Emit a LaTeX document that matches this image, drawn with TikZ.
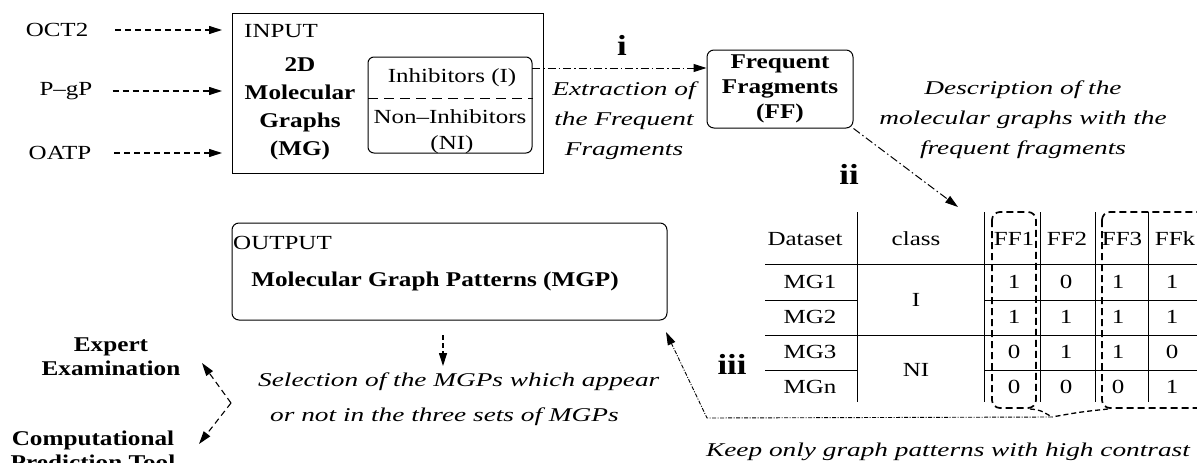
\documentclass[tikz,border=0pt]{standalone}
\usepackage{fontspec}
\setmainfont[FakeStretch=1.25]{Liberation Serif}
\newfontfamily\bff[FakeStretch=1.2]{Liberation Serif}
\newfontfamily\itf[FakeStretch=1.4]{Liberation Serif}
\usetikzlibrary{arrows.meta}
\begin{document}
\begin{tikzpicture}[x=1pt,y=-1pt,
 txt/.style={inner sep=0pt, font=\fontsize{20}{24}\selectfont},
 btxt/.style={inner sep=0pt, align=center, font=\bff\bfseries\fontsize{21}{28}\selectfont},
 roman/.style={inner sep=0pt, font=\bff\bfseries\fontsize{29}{30}\selectfont},
 itxt/.style={inner sep=0pt, align=center, font=\itf\itshape\fontsize{19.5}{30}\selectfont},
 box/.style={draw, line width=1pt, inner sep=0pt},
 rbox/.style={box, rounded corners=7pt},
 tip/.style={-{Triangle[length=13pt,width=8pt]}},
 dasharrow/.style={tip, line width=1.1pt, dash pattern=on 6pt off 4pt},
 dotarrow/.style={tip, line width=1pt, dash pattern=on 8pt off 3pt on 1.5pt off 3pt},
 grid/.style={line width=1pt},
 fbox/.style={line width=1.7pt, dash pattern=on 7pt off 4pt, rounded corners=8pt},
]
\clip (0,0) rectangle (1197,463);
\fill[white] (0,0) rectangle (1197,463);

% left labels
\node[txt] (oct) at (57,30) {OCT2};
\node[txt] (pgp) at (66,91) {P–gP};
\node[txt] (oatp) at (60,153) {OATP};

% input box
\node[box, anchor=north west, minimum width=311, minimum height=160] (input) at (232,13) {};
\node[txt, anchor=west] (inlbl) at (244,31) {INPUT};
\node[btxt] (mg) at (300,109) {2D\\Molecular\\Graphs\\(MG)};
\node[rbox, minimum width=164, minimum height=96, rounded corners=6pt] (grp) at (450,105) {};
\coordinate (dl) at (368,98);
\draw[line width=1pt, dash pattern=on 10pt off 6pt] (dl) -- (dl -| grp.east);
\node[txt] (inh) at (452,78) {Inhibitors (I)};
\node[txt] (ninh) at (450,117) {Non–Inhibitors};
\node[txt] (ni) at (452,145) {(NI)};

\draw[dasharrow] ([xshift=27pt]oct.east) -- ([xshift=-10pt]oct.east -| input.west);
\draw[dasharrow] ([xshift=20pt]pgp.east) -- ([xshift=-10pt]pgp.east -| input.west);
\draw[dasharrow] ([xshift=23pt]oatp.east) -- ([xshift=-10pt]oatp.east -| input.west);

% frequent fragments
\node[rbox, btxt, font=\bff\bfseries\fontsize{21}{25}\selectfont, minimum width=146, minimum height=78] (ff) at (780,89) {Frequent\\Fragments\\(FF)};
\coordinate (istart) at (532,68);
\draw[dotarrow] (istart) -- (istart -| ff.west);
\node[roman] (ilbl) at (622,45) {i};
\node[itxt] (extr) at (624,121) {Extraction of\\the Frequent\\Fragments};
\node[itxt] (desc) at (1023,120) {Description of the\\molecular graphs with the\\frequent fragments};
\node[roman] (iilbl) at (849,174) {ii};
\coordinate (iitip) at (958,207);
\draw[dotarrow] (ff.south east) -- (iitip);

% table grid
\draw[grid] (857,212) -- (857,402);
\draw[grid] (984,212) -- (984,402);
\draw[grid] (1040,212) -- (1040,402);
\draw[grid] (1095,212) -- (1095,402);
\draw[grid] (1148,212) -- (1148,402);
\draw[grid] (765,264) -- (1200,264);
\draw[grid] (765,335) -- (1200,335);
\draw[grid] (765,300) -- (857,300) (984,300) -- (1200,300);
\draw[grid] (765,370) -- (857,370) (984,370) -- (1200,370);

\draw[fbox] (992,212) rectangle (1036,408);
\draw[fbox] (1102,212) rectangle (1230,408);

% table texts
\node[txt] (hds) at (805,239) {Dataset};
\node[txt] (hcl) at (916,239) {class};
\node[txt] (hf1) at (1014,239) {FF1};
\node[txt] (hf2) at (1067,239) {FF2};
\node[txt] (hf3) at (1122,239) {FF3};
\node[txt] (hfk) at (1175,239) {FFk};
\node[txt] (r1) at (810,282) {MG1};
\node[txt] (r2) at (810,317) {MG2};
\node[txt] (r3) at (810,352) {MG3};
\node[txt] (r4) at (810,387) {MGn};
\node[txt] (cI) at (916,300) {I};
\node[txt] (cNI) at (916,370) {NI};
\node[txt] (v11) at (1014,282) {1};
\node[txt] (v12) at (1066,282) {0};
\node[txt] (v13) at (1118,282) {1};
\node[txt] (v14) at (1172,282) {1};
\node[txt] (v21) at (1014,317) {1};
\node[txt] (v22) at (1066,317) {1};
\node[txt] (v23) at (1118,317) {1};
\node[txt] (v24) at (1172,317) {1};
\node[txt] (v31) at (1014,352) {0};
\node[txt] (v32) at (1066,352) {1};
\node[txt] (v33) at (1118,352) {1};
\node[txt] (v34) at (1172,352) {0};
\node[txt] (v41) at (1014,387) {0};
\node[txt] (v42) at (1066,387) {0};
\node[txt] (v43) at (1118,387) {0};
\node[txt] (v44) at (1172,387) {1};

\node[roman] (iiilbl) at (732,364) {iii};

% iii connector
\coordinate (conv) at (1052,417);
\coordinate (bend) at (707,418);
\coordinate (iiitip) at (666,332);
\draw[line width=1.3pt, dash pattern=on 5pt off 3pt] (1030,409) .. controls (1040,410) .. (conv);
\draw[line width=1.3pt, dash pattern=on 5pt off 3pt] (1108,409) .. controls (1080,412) .. (conv);
\draw[tip, line width=0.9pt, dash pattern=on 4pt off 1.5pt on 1pt off 1.5pt] (conv) -- (bend) -- (iiitip);
\node[itxt] (keep) at (948,452) {Keep only graph patterns with high contrast};

% output box
\node[rbox, minimum width=435, minimum height=97] (out) at (449.5,271.5) {};
\node[txt, anchor=west] (outlbl) at (233,243) {OUTPUT};
\node[btxt] (mgp) at (435,281) {Molecular Graph Patterns (MGP)};
\coordinate (selstart) at (443,335);
\coordinate (seltip) at (443,366);
\draw[dasharrow, dash pattern=on 5pt off 3pt] (selstart) -- (seltip);
\node[itxt, anchor=west] (sel1) at (258,382) {Selection of the MGPs which appear};
\node[itxt, anchor=west] (sel2) at (270,417) {or not in the three sets of MGPs};

% expert / computational
\node[btxt, font=\bff\bfseries\fontsize{21}{24}\selectfont] (exp) at (111,357) {Expert\\Examination};
\node[btxt, font=\bff\bfseries\fontsize{21}{24}\selectfont] (comp) at (93,450) {Computational\\Prediction Tool};
\coordinate (vx) at (231,403);
\coordinate (t1) at (202,363);
\coordinate (t2) at (199,444);
\draw[dasharrow] (vx) -- (t1);
\draw[dasharrow] (vx) -- (t2);
\end{tikzpicture}
\end{document}
